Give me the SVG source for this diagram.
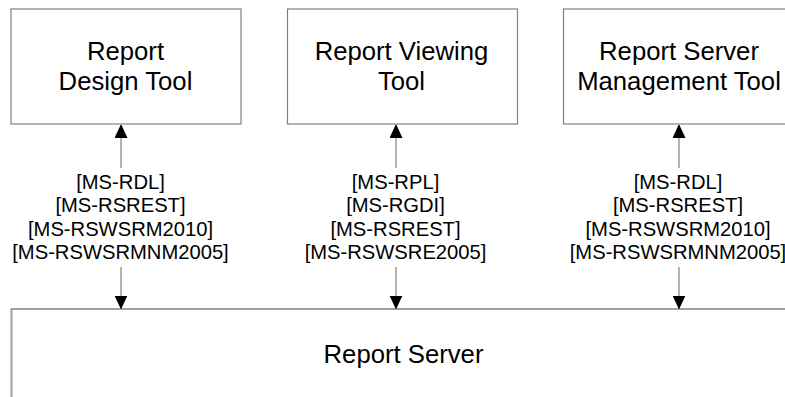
<svg xmlns="http://www.w3.org/2000/svg" width="785" height="397" viewBox="0 0 785 397">
<defs>
<style>
.box{fill:#ffffff;stroke:#808080;stroke-width:1.2}
.bt{font-family:"Liberation Sans",Arial,sans-serif;font-size:25.7px;fill:#000;text-anchor:middle}
.lt{font-family:"Liberation Sans",Arial,sans-serif;font-size:20.2px;fill:#000;text-anchor:middle}
.ln{stroke:#808080;stroke-width:1.2;fill:none}
</style>
<marker id="ah" viewBox="0 0 13 14" refX="13" refY="6.5" markerWidth="13" markerHeight="14" markerUnits="userSpaceOnUse" orient="auto">
<path d="M0,0 L14,6.5 L0,13 Z" fill="#000"/>
</marker>
</defs>
<rect width="785" height="397" fill="#fff"/>
<g id="server">
<rect x="11.5" y="309" width="800" height="120" fill="#fff" stroke="#a0a0a0" stroke-width="2"/>
<text class="bt" x="403.5" y="363">Report Server</text>
</g>
<g id="design-tool">
<rect class="box" x="11" y="9" width="230" height="115"/>
<text class="bt" x="125.5" y="60">Report</text>
<text class="bt" x="125.5" y="89.5">Design Tool</text>
</g>
<g id="viewing-tool">
<rect class="box" x="287.5" y="9" width="230" height="115"/>
<text class="bt" x="401.5" y="60">Report Viewing</text>
<text class="bt" x="401.5" y="89.5">Tool</text>
</g>
<g id="management-tool">
<rect class="box" x="563.5" y="9" width="231" height="115"/>
<text class="bt" x="679" y="60">Report Server</text>
<text class="bt" x="679" y="89.5">Management Tool</text>
</g>
<g id="connectors">
<line class="ln" x1="121" y1="168" x2="121" y2="125" marker-end="url(#ah)"/>
<line class="ln" x1="121" y1="267" x2="121" y2="308.5" marker-end="url(#ah)"/>
<line class="ln" x1="396" y1="168" x2="396" y2="125" marker-end="url(#ah)"/>
<line class="ln" x1="396" y1="267" x2="396" y2="308.5" marker-end="url(#ah)"/>
<line class="ln" x1="679" y1="168" x2="679" y2="125" marker-end="url(#ah)"/>
<line class="ln" x1="679" y1="267" x2="679" y2="308.5" marker-end="url(#ah)"/>
<text class="lt" x="120.5" y="189">[MS-RDL]</text>
<text class="lt" x="120.5" y="212.3">[MS-RSREST]</text>
<text class="lt" x="120.5" y="235.7">[MS-RSWSRM2010]</text>
<text class="lt" x="120.5" y="259.3">[MS-RSWSRMNM2005]</text>
<text class="lt" x="395.5" y="189">[MS-RPL]</text>
<text class="lt" x="395.5" y="212.3">[MS-RGDI]</text>
<text class="lt" x="395.5" y="235.7">[MS-RSREST]</text>
<text class="lt" x="395.5" y="259.3">[MS-RSWSRE2005]</text>
<text class="lt" x="678" y="189">[MS-RDL]</text>
<text class="lt" x="678" y="212.3">[MS-RSREST]</text>
<text class="lt" x="678" y="235.7">[MS-RSWSRM2010]</text>
<text class="lt" x="678" y="259.3">[MS-RSWSRMNM2005]</text>
</g>
</svg>
